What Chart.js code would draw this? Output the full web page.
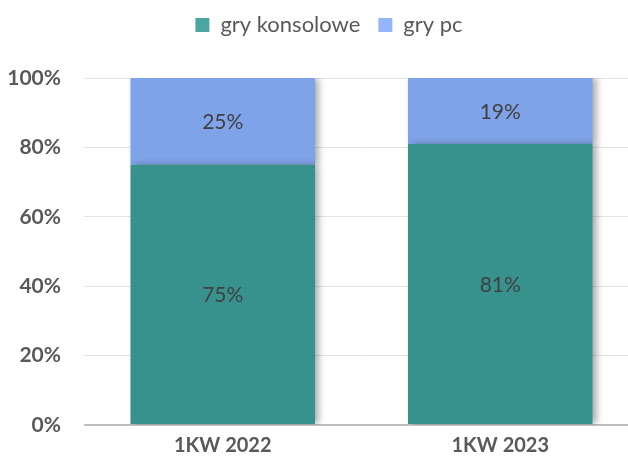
<!DOCTYPE html>
<html>
<head>
<meta charset="utf-8">
<script src="https://cdn.jsdelivr.net/npm/chart.js@4"></script>
<style>
  html, body { margin: 0; padding: 0; background: #fff; overflow: hidden; }
  #wrap { width: 640px; height: 464px; }
</style>
</head>
<body>
<div id="wrap"><canvas id="chart" width="640" height="464"></canvas></div>
<script>
const categories = ['1KW 2022', '1KW 2023'];
const konsolowe = [75, 81];
const pc = [25, 19];
const yTicks = [0, 20, 40, 60, 80, 100];

const FONT = 'Lato, "Open Sans", sans-serif';

// empty box between legend and plot, keeps the gap under the legend
const spacer = {
    id: 'spacer',
    beforeInit(chart) {
        Chart.layouts.addBox(chart, {
            position: 'top', weight: 0, fullSize: true,
            options: {},
            width: 0, height: 0,
            update(maxWidth) { this.width = maxWidth; this.height = 32; return { width: this.width, height: this.height }; },
            getPadding() { return { top: 0, left: 0, right: 0, bottom: 0 }; },
            isHorizontal() { return true; },
            draw() {}
        });
    },
    // y labels stick out past the left padding, don't let them get clipped
    afterLayout(chart) {
        chart.scales.y.left = 0;
    }
};

// drop shadow under the bars and the % labels on each segment
const barExtras = {
    id: 'barExtras',
    beforeDatasetsDraw(chart) {
        const ctx = chart.ctx;
        ctx.save();
        ctx.shadowColor = 'rgba(0,0,0,0.35)';
        ctx.shadowBlur = 7;
        ctx.shadowOffsetX = 4;
        ctx.shadowOffsetY = 0;
    },
    afterDatasetsDraw(chart) {
        const ctx = chart.ctx;
        ctx.restore();
        ctx.save();
        ctx.fillStyle = '#404040';
        ctx.font = '21px ' + FONT;
        ctx.textAlign = 'center';
        ctx.textBaseline = 'middle';
        chart.data.datasets.forEach((ds, i) => {
            chart.getDatasetMeta(i).data.forEach((bar, j) => {
                ctx.fillText(ds.data[j] + '%', bar.x, (bar.y + bar.base) / 2 + 1);
            });
        });
        ctx.restore();
    }
};

new Chart(document.getElementById('chart'), {
    type: 'bar',
    data: {
        labels: categories,
        datasets: [
            { label: 'gry konsolowe', data: konsolowe, backgroundColor: '#37918d', borderWidth: 0 },
            { label: 'gry pc', data: pc, backgroundColor: '#7fa3e8', borderWidth: 0 }
        ]
    },
    options: {
        responsive: false,
        devicePixelRatio: 1,
        animation: false,
        layout: { padding: { top: -4, right: 1, left: 19, bottom: 0 } },
        datasets: { bar: { categoryPercentage: 1, barPercentage: 0.665 } },
        plugins: {
            tooltip: { enabled: false },
            legend: {
                position: 'top',
                labels: {
                    generateLabels(chart) {
                        const legendColors = ['#4ba6a1', '#94b5fa'];
                        return chart.data.datasets.map((ds, i) => ({
                            text: ds.label, fillStyle: legendColors[i], strokeStyle: legendColors[i],
                            lineWidth: 0, datasetIndex: i, fontColor: '#595959'
                        }));
                    },
                    boxWidth: 14, boxHeight: 14, padding: 18,
                    color: '#595959',
                    font: { family: FONT, size: 22 }
                }
            }
        },
        scales: {
            x: {
                stacked: true,
                grid: { display: false, drawTicks: false },
                border: { display: false },
                ticks: { color: '#595959', padding: 9, font: { family: FONT, size: 20, weight: 'bold' } },
                afterFit(scale) { scale.height = 39; }
            },
            y: {
                stacked: true,
                min: 0, max: 100,
                afterBuildTicks(scale) { scale.ticks = yTicks.map(v => ({ value: v })); },
                grid: {
                    drawTicks: false,
                    color: ctx => ctx.index === 0 ? '#bfbfbf' : '#e4e4e4',
                    lineWidth: ctx => ctx.index === 0 ? 2 : 1
                },
                border: { display: false },
                ticks: {
                    color: '#595959', padding: 23,
                    font: { family: FONT, size: 21, weight: 'bold' },
                    callback: v => v + '%'
                },
                afterFit(scale) { scale.width = 65; }
            }
        }
    },
    plugins: [spacer, barExtras]
});
</script>
</body>
</html>
